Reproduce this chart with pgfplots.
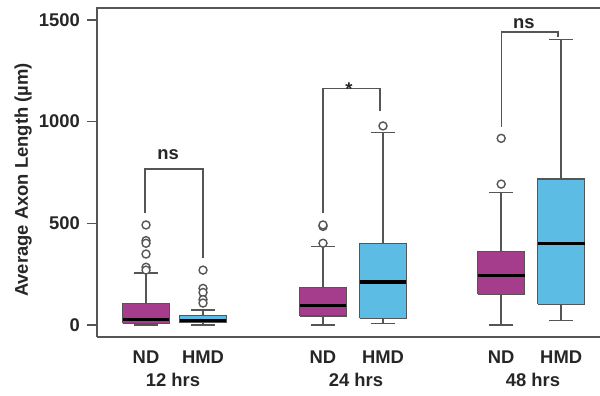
\documentclass[border=0pt]{standalone}
\usepackage{fontspec}
\setmainfont{Liberation Sans}
\usepackage{pgfplots}
\pgfplotsset{compat=1.18}
\definecolor{ndc}{RGB}{166,60,140}
\definecolor{hmdc}{RGB}{92,188,228}
\definecolor{lc}{RGB}{85,85,85}
\newcommand{\lf}{\fontsize{9.2}{11}\selectfont\bfseries}
\begin{document}
\begin{tikzpicture}
\begin{axis}[
  scale only axis, width=251.5pt, height=164.5pt,
  xmin=0.183, xmax=8.567, ymin=-59, ymax=1559,
  axis line style={draw=none},
  ytick={0,500,1000,1500},
  ytick pos=left,
  xtick={1,1.95,3.95,4.95,6.92,7.92},
  xticklabels={ND,HMD,ND,HMD,ND,HMD},
  xtick pos=bottom,
  major tick length=5pt, tick align=outside,
  tick style={lc, line width=0.8pt},
  x tick style={draw=none},
  ticklabel style={font=\lf, text=black!85},
  xticklabel style={yshift=1.5pt},
  /pgf/number format/assume math mode=true,
  /pgf/number format/1000 sep={},
  scaled ticks=false,
  ylabel={Average Axon Length (µm)},
  ylabel style={font=\lf, text=black!85, at={(axis description cs:-0.147,0.477)}, anchor=center},
  clip=false,
  boxst/.style={draw=lc, line width=0.7pt, line join=miter},
  medst/.style={black, line width=1.6pt, no marks},
  whst/.style={lc, line width=0.7pt, no marks},
  outst/.style={only marks, mark=*, mark size=2pt, mark options={draw=lc, fill=white, line width=0.7pt}},
]
\draw[lc, line width=0.8pt] (rel axis cs:0,0) -- (rel axis cs:0,1) -- (rel axis cs:1,1);
\draw[lc, line width=0.8pt] (rel axis cs:0,0) -- (rel axis cs:1,0);
% ---- 12 hrs ND (x=1)
\addplot[whst] coordinates {(1,107) (1,255)};
\addplot[whst] coordinates {(0.8,255) (1.2,255)};
\addplot[whst] coordinates {(1,8) (1,0)};
\addplot[whst] coordinates {(0.8,0) (1.2,0)};
\addplot[boxst, fill=ndc] coordinates {(0.61,8) (1.39,8) (1.39,107) (0.61,107) (0.61,8)};
\addplot[medst] coordinates {(0.61,28) (1.39,28)};
\addplot[outst] coordinates {(1,492) (1,415) (1,402) (1,349) (1,284) (1,270)};
% ---- 12 hrs HMD (x=1.95)
\addplot[whst] coordinates {(1.95,46) (1.95,74)};
\addplot[whst] coordinates {(1.75,74) (2.15,74)};
\addplot[whst] coordinates {(1.95,11) (1.95,0)};
\addplot[whst] coordinates {(1.75,0) (2.15,0)};
\addplot[boxst, fill=hmdc] coordinates {(1.56,11) (2.34,11) (2.34,46) (1.56,46) (1.56,11)};
\addplot[medst] coordinates {(1.56,21) (2.34,21)};
\addplot[outst] coordinates {(1.95,270) (1.95,180) (1.95,160) (1.95,125) (1.95,108)};
% ---- 24 hrs ND (x=3.95)
\addplot[whst] coordinates {(3.95,184) (3.95,385)};
\addplot[whst] coordinates {(3.75,385) (4.15,385)};
\addplot[whst] coordinates {(3.95,44) (3.95,0)};
\addplot[whst] coordinates {(3.75,0) (4.15,0)};
\addplot[boxst, fill=ndc] coordinates {(3.56,44) (4.34,44) (4.34,184) (3.56,184) (3.56,44)};
\addplot[medst] coordinates {(3.56,97) (4.34,97)};
\addplot[outst] coordinates {(3.95,402) (3.95,485) (3.95,492)};
% ---- 24 hrs HMD (x=4.95)
\addplot[whst] coordinates {(4.95,402) (4.95,948)};
\addplot[whst] coordinates {(4.75,948) (5.15,948)};
\addplot[whst] coordinates {(4.95,33) (4.95,6)};
\addplot[whst] coordinates {(4.75,6) (5.15,6)};
\addplot[boxst, fill=hmdc] coordinates {(4.56,33) (5.34,33) (5.34,402) (4.56,402) (4.56,33)};
\addplot[medst] coordinates {(4.56,211) (5.34,211)};
\addplot[outst] coordinates {(4.95,979)};
% ---- 48 hrs ND (x=6.92)
\addplot[whst] coordinates {(6.92,361) (6.92,651)};
\addplot[whst] coordinates {(6.72,651) (7.12,651)};
\addplot[whst] coordinates {(6.92,151) (6.92,0)};
\addplot[whst] coordinates {(6.72,0) (7.12,0)};
\addplot[boxst, fill=ndc] coordinates {(6.53,151) (7.31,151) (7.31,361) (6.53,361) (6.53,151)};
\addplot[medst] coordinates {(6.53,243) (7.31,243)};
\addplot[outst] coordinates {(6.92,693) (6.92,918)};
% ---- 48 hrs HMD (x=7.92)
\addplot[whst] coordinates {(7.92,718) (7.92,1405)};
\addplot[whst] coordinates {(7.72,1405) (8.12,1405)};
\addplot[whst] coordinates {(7.92,102) (7.92,21)};
\addplot[whst] coordinates {(7.72,21) (8.12,21)};
\addplot[boxst, fill=hmdc] coordinates {(7.53,102) (8.31,102) (8.31,718) (7.53,718) (7.53,102)};
\addplot[medst] coordinates {(7.53,402) (8.31,402)};
% significance brackets
\addplot[whst, line width=0.8pt] coordinates {(0.985,552) (0.985,767) (1.95,767) (1.95,330)};
\addplot[whst, line width=0.8pt] coordinates {(3.95,551) (3.95,1164) (4.9,1164) (4.9,1053)};
\addplot[whst, line width=0.8pt] coordinates {(6.928,975) (6.928,1440) (7.867,1440) (7.867,1416)};
\node[anchor=base, font=\lf, text=black!85] at (axis cs:1.367,812) {ns};
\node[anchor=base, font=\lf, text=black!85] at (axis cs:4.383,1128) {*};
\node[anchor=base, font=\lf, text=black!85] at (axis cs:7.3,1456) {ns};
% group labels
\node[anchor=base, font=\lf, text=black!85] at (axis cs:1.45,-303) {12 hrs};
\node[anchor=base, font=\lf, text=black!85] at (axis cs:4.5,-303) {24 hrs};
\node[anchor=base, font=\lf, text=black!85] at (axis cs:7.45,-303) {48 hrs};
\end{axis}
\pgfresetboundingbox
\path[use as bounding box] ([xshift=-48.5pt,yshift=-29.5pt]current axis.south west) rectangle ([xshift=251.5pt,yshift=168.5pt]current axis.south west);
\end{tikzpicture}
\end{document}
